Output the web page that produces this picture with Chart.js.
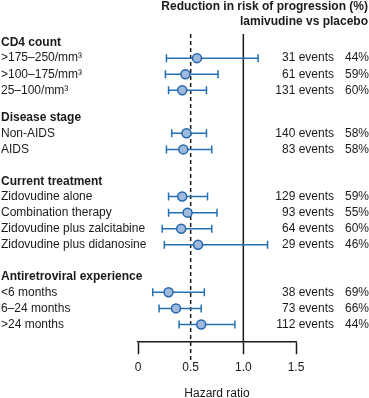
<!DOCTYPE html>
<html>
<head>
<meta charset="UTF-8">
<title>Hazard ratio forest plot</title>
<script src="https://cdn.jsdelivr.net/npm/chart.js"></script>
<style>
  * { margin: 0; padding: 0; }
  body { background: #fff; width: 369px; height: 398px; overflow: hidden; }
  #wrap { position: relative; width: 369px; height: 398px; }
</style>
</head>
<body>
<div id="wrap"><canvas id="chart"></canvas></div>
<script>
// subgroup headers and which header each row belongs to
const groups = ['CD4 count', 'Disease stage', 'Current treatment', 'Antiretroviral experience'];
const groupOf = [0, 0, 0, 1, 1, 2, 2, 2, 2, 3, 3, 3];
const labels = [
  '>175–250/mm³', '>100–175/mm³', '25–100/mm³',
  'Non-AIDS', 'AIDS',
  'Zidovudine alone', 'Combination therapy', 'Zidovudine plus zalcitabine', 'Zidovudine plus didanosine',
  '<6 months', '6–24 months', '>24 months'
];
const hazard  = [0.56, 0.45, 0.42, 0.46, 0.43, 0.42, 0.47, 0.41, 0.57, 0.29, 0.36, 0.60];
const lowerCI = [0.27, 0.26, 0.29, 0.32, 0.27, 0.29, 0.29, 0.23, 0.25, 0.14, 0.20, 0.39];
const upperCI = [1.14, 0.76, 0.65, 0.65, 0.70, 0.66, 0.75, 0.70, 1.23, 0.63, 0.60, 0.92];
const events    = [31, 61, 131, 140, 83, 129, 93, 64, 29, 38, 73, 112];
const reduction = [44, 59, 60, 58, 58, 59, 55, 60, 46, 69, 66, 44];
const xTicks = [0, 0.5, 1, 1.5];
const refLine = 0.5;   // dashed
const nullLine = 1;    // solid

const FONT = "'Liberation Sans', Arial, Helvetica, sans-serif";
const INK = '#1a1a1a';
const BLUE = '#2570b4';

// row positions on the y scale: header, then its rows, then a gap before the next header
const headGap = 0.95;
const groupGap = [1.72, 1.98, 2.0];
const headPos = [];
const rowPos = [];
let pos = 0;
for (let g = 0; g < groups.length; g++) {
  headPos.push(pos);
  pos += headGap;
  let last = pos;
  labels.forEach((l, i) => {
    if (groupOf[i] === g) { rowPos[i] = pos; last = pos; pos += 1; }
  });
  pos = last + (groupGap[g] || 0);
}

const points = hazard.map((h, i) => ({ x: h, y: rowPos[i] }));

const forestPlugin = {
  id: 'forest',
  beforeDatasetsDraw(chart) {
    const { ctx, chartArea, scales: { x, y } } = chart;
    ctx.save();
    // reference lines
    ctx.strokeStyle = INK;
    ctx.lineWidth = 1.5;
    ctx.setLineDash([4, 3]);
    ctx.beginPath();
    ctx.moveTo(x.getPixelForValue(refLine), chartArea.top);
    ctx.lineTo(x.getPixelForValue(refLine), chartArea.bottom + 18);
    ctx.stroke();
    ctx.setLineDash([]);
    ctx.beginPath();
    ctx.moveTo(x.getPixelForValue(nullLine), chartArea.top);
    ctx.lineTo(x.getPixelForValue(nullLine), chartArea.bottom);
    ctx.stroke();
    // confidence intervals
    ctx.strokeStyle = BLUE;
    ctx.lineWidth = 1.5;
    hazard.forEach((h, i) => {
      const py = y.getPixelForValue(rowPos[i]);
      const x1 = x.getPixelForValue(lowerCI[i]);
      const x2 = x.getPixelForValue(upperCI[i]);
      ctx.beginPath();
      ctx.moveTo(x1, py); ctx.lineTo(x2, py);
      ctx.moveTo(x1, py - 4); ctx.lineTo(x1, py + 4);
      ctx.moveTo(x2, py - 4); ctx.lineTo(x2, py + 4);
      ctx.stroke();
    });
    ctx.restore();
  },
  afterDraw(chart) {
    const { ctx, width, scales: { y } } = chart;
    ctx.save();
    ctx.fillStyle = INK;
    ctx.textBaseline = 'middle';
    // title
    ctx.font = 'bold 12px ' + FONT;
    ctx.textAlign = 'right';
    ctx.fillText('Reduction in risk of progression (%)', width - 1, 7);
    ctx.fillText('lamivudine vs placebo', width - 1, 22);
    // group headers
    ctx.textAlign = 'left';
    groups.forEach((g, gi) => ctx.fillText(g, 1, y.getPixelForValue(headPos[gi])));
    // row labels and right-hand text
    ctx.font = '12px ' + FONT;
    labels.forEach((l, i) => {
      const py = y.getPixelForValue(rowPos[i]);
      ctx.textAlign = 'left';
      ctx.fillText(l, 1, py);
      ctx.textAlign = 'right';
      ctx.fillText(events[i] + ' events', width - 35, py);
      ctx.textAlign = 'left';
      ctx.fillText(reduction[i] + '%', width - 24, py);
    });
    ctx.restore();
  }
};

new Chart(document.getElementById('chart'), {
  type: 'scatter',
  data: {
    datasets: [{
      data: points,
      pointRadius: 4.5,
      pointBackgroundColor: '#9fb9dd',
      pointBorderColor: '#2267ad',
      pointBorderWidth: 1.5,
      showLine: false
    }]
  },
  options: {
    responsive: true,
    maintainAspectRatio: false,
    animation: false,
    layout: { padding: { left: 138, right: 73, top: 34, bottom: -3 } },
    plugins: { legend: { display: false }, tooltip: { enabled: false } },
    scales: {
      x: {
        type: 'linear',
        min: 0, max: 1.5,
        afterBuildTicks: s => { s.ticks = xTicks.map(v => ({ value: v })); },
        border: { display: true, color: INK, width: 1.5 },
        grid: {
          drawOnChartArea: false,
          drawTicks: true,
          tickLength: 12,
          tickWidth: 1.5,
          tickColor: c => (c.tick && c.tick.value === refLine) ? 'rgba(0,0,0,0)' : INK
        },
        ticks: {
          padding: 6,
          color: INK,
          font: { family: FONT, size: 12 }
        },
        title: {
          display: true,
          text: 'Hazard ratio',
          color: INK,
          font: { family: FONT, size: 12 },
          padding: { top: 6, bottom: 0 }
        }
      },
      y: {
        type: 'linear',
        display: false,
        reverse: true,
        min: -0.55,
        max: 18.6
      }
    }
  },
  plugins: [forestPlugin]
});
</script>
</body>
</html>
